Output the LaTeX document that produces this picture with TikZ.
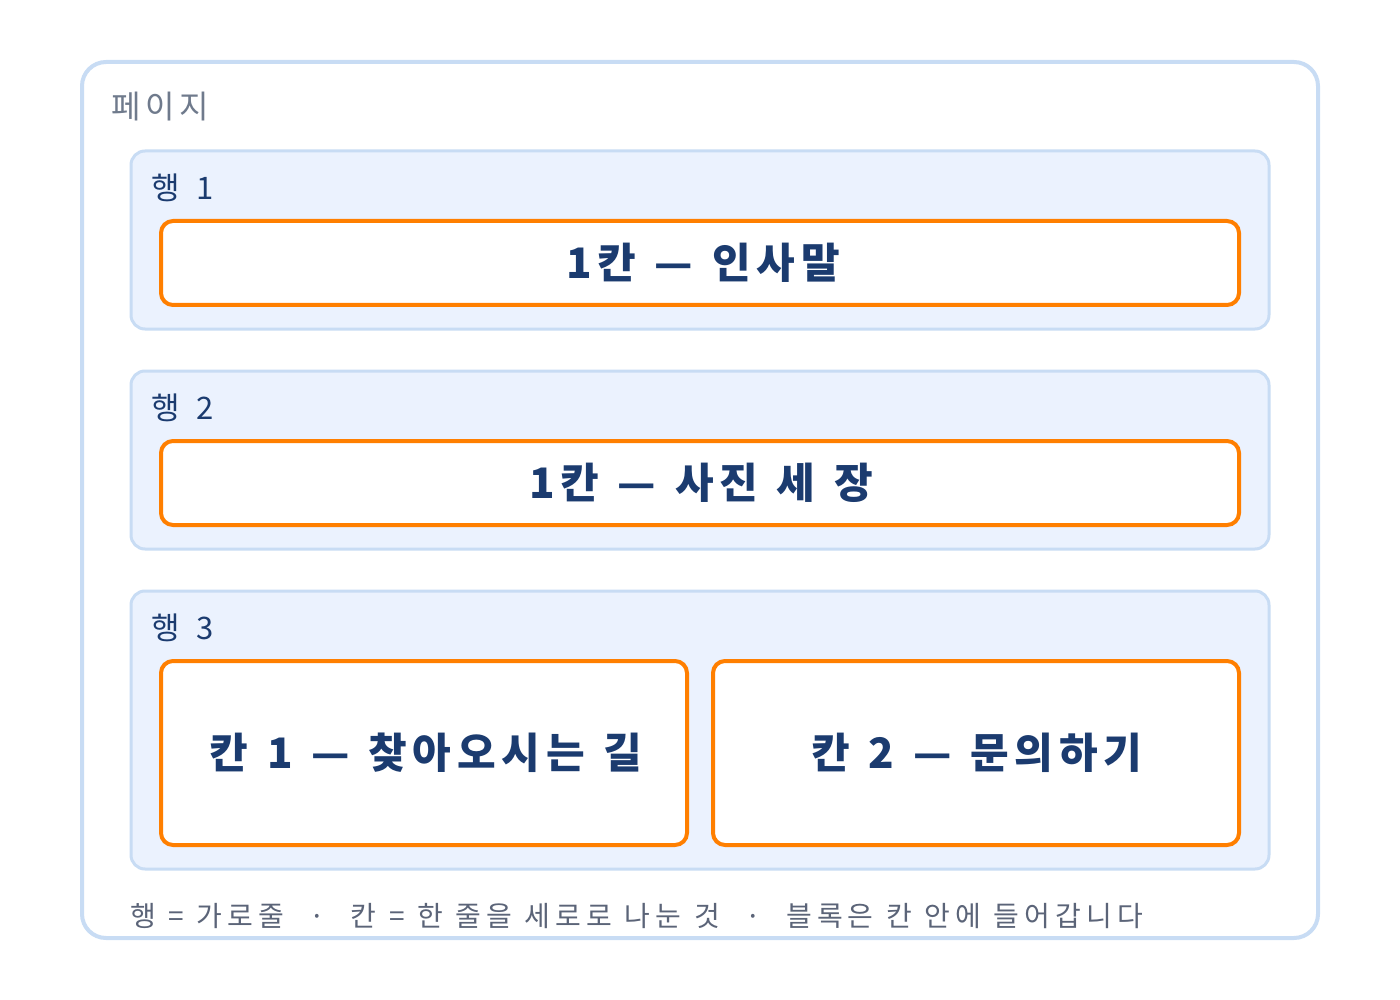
\documentclass[tikz,border=0pt]{standalone}
\usepackage{fontspec}
\setmainfont{Noto Sans CJK KR}
\newfontfamily\krlab[WordSpace=2.4]{Noto Sans CJK KR}
\newfontfamily\krpage[LetterSpace=14]{Noto Sans CJK KR}
\newfontfamily\krbold[LetterSpace=14,WordSpace=1.2]{Noto Sans CJK KR}
\newfontfamily\krcap[LetterSpace=18,WordSpace=1.12]{Noto Sans CJK KR}
\definecolor{pageborder}{HTML}{C8DCF4}
\definecolor{rowfill}{HTML}{EBF2FE}
\definecolor{rowborder}{HTML}{C8DCF4}
\definecolor{boxorange}{HTML}{FF7F00}
\definecolor{navy}{HTML}{1B3B6F}
\definecolor{pagegray}{HTML}{6F7A8C}
\definecolor{capgray}{HTML}{5B6478}
\tikzset{
  pagebox/.style={draw=pageborder, line width=4pt, fill=white, rounded corners=24pt},
  rowbox/.style={draw=rowborder, line width=3pt, fill=rowfill, rounded corners=14pt},
  cellbox/.style={draw=boxorange, line width=4pt, fill=white, rounded corners=12pt},
  rowlabel/.style={anchor=west, text=navy, font=\krlab\fontsize{31}{36}\selectfont, inner sep=0pt},
  celltext/.style={text=navy, font=\krbold\bfseries\fontsize{42}{48}\selectfont, inner sep=0pt},
}
\begin{document}
\begin{tikzpicture}[x=1pt,y=-1pt]
\useasboundingbox (0,0) rectangle (1400,1000);
\draw[pagebox] (82,62) rectangle (1318,938);
\node[anchor=west, text=pagegray, font=\krpage\fontsize{32}{36}\selectfont, inner sep=0pt] (pagelabel) at (111,107) {페이지};
% row 1
\draw[rowbox] (131,151) rectangle (1269,329);
\node[rowlabel] (r1label) at (151,188) {행 1};
\draw[cellbox] (161,221) rectangle (1239,305);
\node[celltext] (c11) at (703,263) {1칸 — 인사말};
% row 2
\draw[rowbox] (131,371) rectangle (1269,549);
\node[rowlabel] (r2label) at (151,408) {행 2};
\draw[cellbox] (161,441) rectangle (1239,525);
\node[celltext] (c21) at (701,483) {1칸 — 사진 세 장};
% row 3
\draw[rowbox] (131,591) rectangle (1269,869);
\node[rowlabel] (r3label) at (151,628) {행 3};
\draw[cellbox] (161,661) rectangle (687,845);
\node[celltext] (c31) at (426,753) {칸 1 — 찾아오시는 길};
\draw[cellbox] (713,661) rectangle (1239,845);
\node[celltext] (c32) at (977,753) {칸 2 — 문의하기};
% caption
\node[anchor=west, text=capgray, font=\krcap\fontsize{28}{32}\selectfont, inner sep=0pt] (caption) at (130,916) {행 = 가로줄 \ · \ 칸 = 한 줄을 세로로 나눈 것 \ · \ 블록은 칸 안에 들어갑니다};
\end{tikzpicture}
\end{document}
